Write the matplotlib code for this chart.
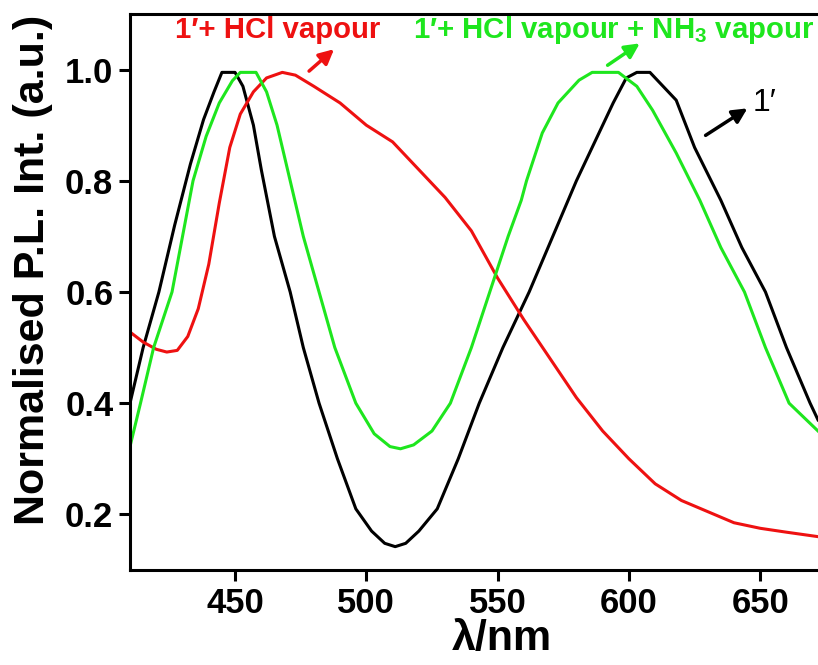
import matplotlib.pyplot as plt
from matplotlib import font_manager

# wavelength (nm) / normalised intensity
black_x = [410, 415, 421, 427, 433, 438, 442, 445, 450, 453, 457, 460, 465, 471, 476,
           482, 489, 496, 502, 507, 511, 515, 520, 527, 535, 543, 552, 562, 571, 580,
           588, 594, 599, 603, 608, 612, 618, 625, 635, 643, 652, 660, 669, 672]
black_y = [0.40, 0.50, 0.60, 0.72, 0.83, 0.91, 0.96, 0.995, 0.995, 0.97, 0.90, 0.82, 0.70, 0.60, 0.50,
           0.40, 0.30, 0.21, 0.17, 0.148, 0.142, 0.148, 0.17, 0.21, 0.30, 0.40, 0.50, 0.60, 0.70, 0.80,
           0.88, 0.94, 0.985, 0.995, 0.995, 0.975, 0.945, 0.86, 0.765, 0.68, 0.60, 0.50, 0.40, 0.37]

green_x = [410, 414, 419, 426, 430, 434, 439, 444, 449, 452, 458, 462, 466, 471, 476,
           482, 488, 496, 503, 509, 513, 518, 525, 532, 540, 547, 554, 559, 561, 567,
           573, 581, 586, 596, 603, 609, 618, 627, 635, 644, 652, 661, 672]
green_y = [0.322, 0.40, 0.50, 0.60, 0.70, 0.80, 0.88, 0.94, 0.98, 0.995, 0.995, 0.96, 0.90, 0.80, 0.70,
           0.60, 0.50, 0.40, 0.345, 0.322, 0.318, 0.325, 0.35, 0.40, 0.50, 0.60, 0.70, 0.765, 0.80, 0.886,
           0.94, 0.981, 0.995, 0.995, 0.97, 0.927, 0.85, 0.765, 0.68, 0.60, 0.50, 0.40, 0.35]

red_x = [410, 415, 420, 424, 428, 432, 436, 440, 444, 448, 452, 457, 462, 468, 473,
         480, 490, 500, 510, 520, 530, 540, 550, 560, 570, 580, 590, 600, 610, 620,
         630, 640, 650, 660, 672]
red_y = [0.528, 0.51, 0.497, 0.492, 0.495, 0.52, 0.57, 0.65, 0.76, 0.86, 0.92, 0.96, 0.985, 0.995, 0.99,
         0.97, 0.94, 0.90, 0.87, 0.82, 0.77, 0.71, 0.625, 0.55, 0.48, 0.41, 0.35, 0.30, 0.255, 0.225,
         0.205, 0.185, 0.175, 0.168, 0.16]

x_ticks = [450, 500, 550, 600, 650]
y_ticks = [0.2, 0.4, 0.6, 0.8, 1.0]

GREEN = "#1ee61e"
RED = "#ee1111"

installed = {f.name for f in font_manager.fontManager.ttflist}
fam = "Liberation Sans Narrow" if "Liberation Sans Narrow" in installed else "Liberation Sans"
plt.rcParams['font.family'] = [fam, 'DejaVu Sans']
plt.rcParams['font.weight'] = 'bold'
plt.rcParams['mathtext.fontset'] = 'custom'
plt.rcParams['mathtext.rm'] = fam + ':bold'


def main():
    fig = plt.figure(figsize=(8.18, 6.65), dpi=100)
    ax = fig.add_axes([130 / 818, 95 / 665, 1 - 130 / 818, (570 - 14) / 665])

    ax.plot(black_x, black_y, color="black", lw=2.2)
    ax.plot(red_x, red_y, color=RED, lw=2.2)
    ax.plot(green_x, green_y, color=GREEN, lw=2.2)

    ax.set_xlim(410, 672)
    ax.set_ylim(0.1, 1.1)
    ax.set_xticks(x_ticks)
    ax.set_yticks(y_ticks)
    ax.set_yticklabels(["%.1f" % v for v in y_ticks])
    ax.tick_params(direction="out", length=8, width=2.2, labelsize=25, pad=4)
    for lab in ax.get_xticklabels() + ax.get_yticklabels():
        lab.set_fontweight("bold")
    for s in ax.spines.values():
        s.set_linewidth(2.2)
    ax.spines["right"].set_visible(False)

    ax.set_xlabel("λ/nm", fontsize=31, fontweight="bold")
    ax.xaxis.set_label_coords(0.54, -0.088)
    ax.set_ylabel("Normalised P.L. Int. (a.u.)", fontsize=31, fontweight="bold")
    ax.yaxis.set_label_coords(-0.112, 0.54)

    # labels with arrows
    ax.text(427, 1.071, "1′+ HCl vapour", color=RED, fontsize=21.2, fontweight="bold",
            ha="left", va="center")
    ax.annotate("", xy=(488.5, 1.04), xytext=(477.4, 0.994),
                arrowprops=dict(arrowstyle="-|>", color=RED, lw=2.5, mutation_scale=22))
    ax.text(517.8, 1.071, r"1′+ HCl vapour + NH$_\mathrm{3}$ vapour", color=GREEN, fontsize=21.2,
            fontweight="bold", ha="left", va="center")
    ax.annotate("", xy=(605, 1.05), xytext=(591, 1.005),
                arrowprops=dict(arrowstyle="-|>", color=GREEN, lw=2.5, mutation_scale=22))
    ax.text(647, 0.94, "1′", color="black", fontsize=23, fontweight="normal",
            ha="left", va="center")
    ax.annotate("", xy=(646, 0.933), xytext=(628.3, 0.879),
                arrowprops=dict(arrowstyle="-|>", color="black", lw=2.5, mutation_scale=22))

    fig.savefig("out.png", dpi=100)


if __name__ == "__main__":
    main()
